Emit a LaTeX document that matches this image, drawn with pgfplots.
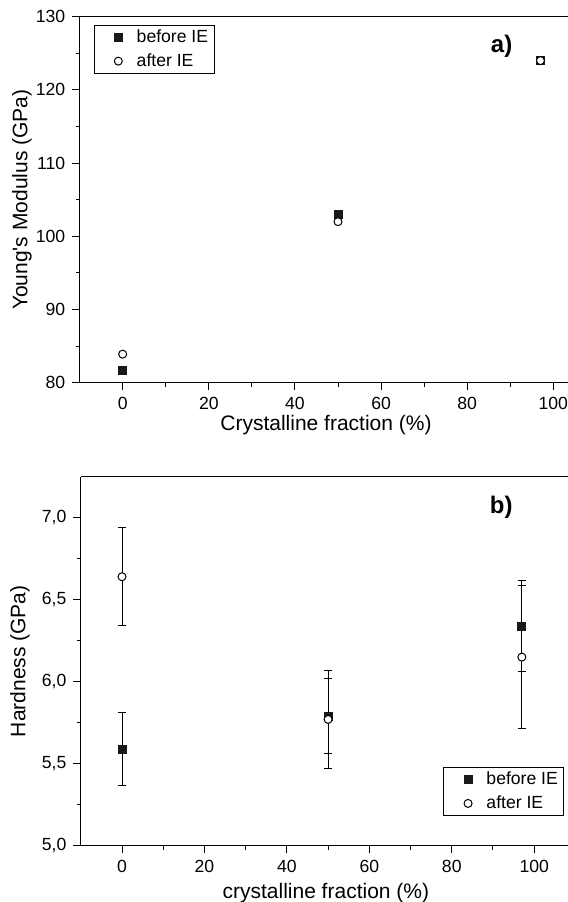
\documentclass[border=0pt]{standalone}
\usepackage{fontspec}
\setmainfont{Liberation Sans}
\usepackage{pgfplots}
\pgfplotsset{compat=1.18}

\pgfplotsset{
  panel/.style={
    scale only axis,
    anchor=south west,
    separate axis lines,
    axis x line*=box, axis y line*=left,
    xtick pos=left, ytick pos=left,
    tick align=outside,
    major tick length=3.7pt, minor tick length=2pt,
    every tick/.style={line width=0.5pt, black},
    axis line style={line width=0.6pt, black},
    xmin=-10, xtick={0,20,...,100}, minor x tick num=1,
    minor y tick num=1,
    tick label style={font=\fontsize{8.8}{10}\selectfont},
    label style={font=\fontsize{10.5}{12}\selectfont},
    /pgf/number format/assume math mode=true,
    legend cell align=left,
    legend image code/.code={\draw[##1] plot coordinates {(11pt,0pt)}; \path (0pt,0pt) (18pt,0pt);},
    legend style={draw=black, line width=0.4pt, inner ysep=0pt, inner xsep=1pt,
      font=\fontsize{8.8}{10}\selectfont},
  },
  before/.style={only marks, mark=square*, mark size=2pt,
    mark options={fill=black!90, draw=black!90}},
  after/.style={only marks, mark=*, mark size=2pt,
    mark options={fill=white, draw=black, line width=0.5pt}},
  ebars/.style={error bars/.cd, y dir=both, y explicit,
    error bar style={line width=0.5pt, black},
    error mark options={rotate=90, mark size=2pt, line width=0.5pt, black}},
}

\begin{document}
\begin{tikzpicture}
\useasboundingbox (0,0) rectangle (284pt,451pt);

% a) Young's modulus
\begin{axis}[panel,
  at={(39.8pt,259.65pt)}, width=244.2pt, height=183pt,
  xmax=103.4, ymin=80, ymax=130, ytick={80,90,...,130},
  xlabel={Crystalline fraction (\%)},
  ylabel={Young\textquotesingle s Modulus (GPa)},
  xlabel style={at={(axis description cs:0.5045,-0.1156)}, anchor=center},
  ylabel style={at={(axis description cs:-0.118,0.5)}, anchor=center},
  legend style={at={(axis description cs:0.0285,0.977)}, anchor=north west},
]
\addplot[before] coordinates {(0,81.7) (50,103.0) (97,124.0)};
\addplot[after] coordinates {(0,83.9) (50,102.0) (97,124.0)};
\legend{before IE, after IE}
\node[font=\bfseries\fontsize{12}{14}\selectfont] at (axis description cs:0.864,0.918) {a)};
\end{axis}

% b) hardness
\begin{axis}[panel,
  at={(40.4pt,28.15pt)}, width=243.6pt, height=184.5pt,
  xmax=108.2, ymin=5, ymax=7.25, ytick={5,5.5,...,7},
  yticklabel style={/pgf/number format/.cd, fixed, fixed zerofill, precision=1, use comma},
  xlabel={crystalline fraction (\%)},
  ylabel={Hardness (GPa)},
  xlabel style={at={(axis description cs:0.503,-0.128)}, anchor=center},
  ylabel style={at={(axis description cs:-0.125,0.5)}, anchor=center},
  legend style={at={(axis description cs:0.9924,0.0813)}, anchor=south east},
]
\addplot[before, ebars] coordinates {(0,5.59) +- (0,0.22) (50,5.79) +- (0,0.23) (97,6.34) +- (0,0.28)};
\addplot[after, ebars] coordinates {(0,6.64) +- (0,0.30) (50,5.77) +- (0,0.30) (97,6.15) +- (0,0.435)};
\legend{before IE, after IE}
\node[font=\bfseries\fontsize{12}{14}\selectfont] at (axis description cs:0.863,0.9165) {b)};
\end{axis}
\end{tikzpicture}
\end{document}
